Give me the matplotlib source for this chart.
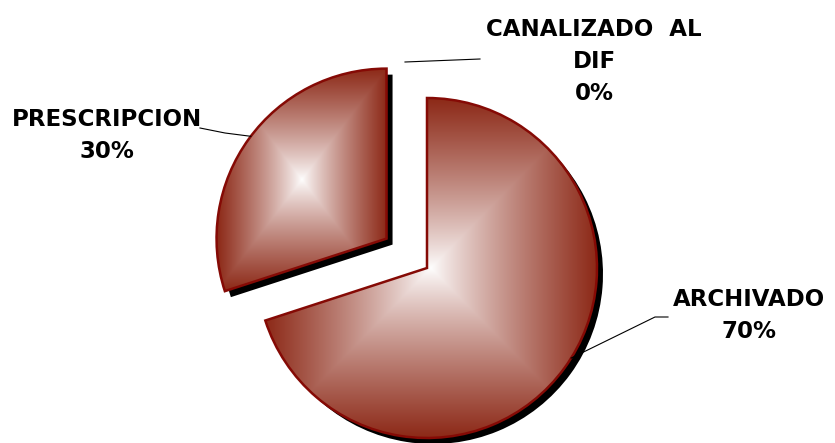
import numpy as np
import matplotlib.pyplot as plt
from matplotlib.patches import Wedge

# data
labels = ['ARCHIVADO', 'PRESCRIPCION', 'CANALIZADO  AL\nDIF']
values = [70, 30, 0]
explode = [0, 50, 0]  # pie explode is in data units here

W, H = 835, 443
dark = np.array([0.55, 0.16, 0.09])
white = np.array([1.0, 1.0, 1.0])

fig = plt.figure(figsize=(W / 100, H / 100), dpi=100)
ax = fig.add_axes([0, 0, 1, 1])

cx, cy, R = 427, 175, 170
wedges, _ = ax.pie(values, center=(cx, cy), radius=R, startangle=90,
                   counterclock=False, explode=explode)

for w, v in zip(wedges, values):
    if v == 0:
        w.set_visible(False)
        continue
    # drop shadow
    sh = Wedge((w.center[0] + 6, w.center[1] - 6), w.r, w.theta1, w.theta2,
               facecolor='black', edgecolor='none', zorder=1)
    ax.add_patch(sh)
    # rectangular gradient, white in the middle of the bbox
    bb = w.get_path().get_extents()
    xs = np.linspace(-1, 1, 400)
    X, Y = np.meshgrid(xs, xs)
    t = np.maximum(np.abs(X), np.abs(Y))[..., None] ** 0.85
    img = white * (1 - t) + dark * t
    im = ax.imshow(img, extent=(bb.x0, bb.x1, bb.y0, bb.y1), origin='lower',
                   zorder=2, interpolation='bilinear')
    im.set_clip_path(w)
    w.set_facecolor('none')
    w.set_edgecolor('#850A05')
    w.set_linewidth(1.8)
    w.set_zorder(3)

ax.set_xlim(0, W)
ax.set_ylim(0, H)
ax.set_aspect('equal')
ax.axis('off')

font = dict(family='DejaVu Sans', weight='bold', fontsize=16.5, ha='center', va='center',
            linespacing=1.5)

# labels
ax.text(749, H - 315, labels[0] + '\n%d%%' % values[0], **font)
ax.text(107, H - 135, labels[1] + '\n%d%%' % values[1], **font)
ax.text(594, H - 61, labels[2] + '\n%d%%' % values[2], **font)

# leader lines
a0 = np.deg2rad(-32)
p0 = (cx + R * np.cos(a0), cy + R * np.sin(a0))
ax.plot([p0[0], 655, 668], [p0[1], H - 317, H - 317], color='black', lw=0.8, zorder=4)

w1 = wedges[1]
a1 = np.deg2rad(143)
p1 = (w1.center[0] + R * np.cos(a1), w1.center[1] + R * np.sin(a1))
ax.plot([p1[0], 225, 200], [p1[1], H - 133, H - 128], color='black', lw=0.8, zorder=4)

ax.plot([405, 480], [H - 62, H - 59], color='black', lw=0.8, zorder=4)

fig.savefig('out.png', dpi=100)
